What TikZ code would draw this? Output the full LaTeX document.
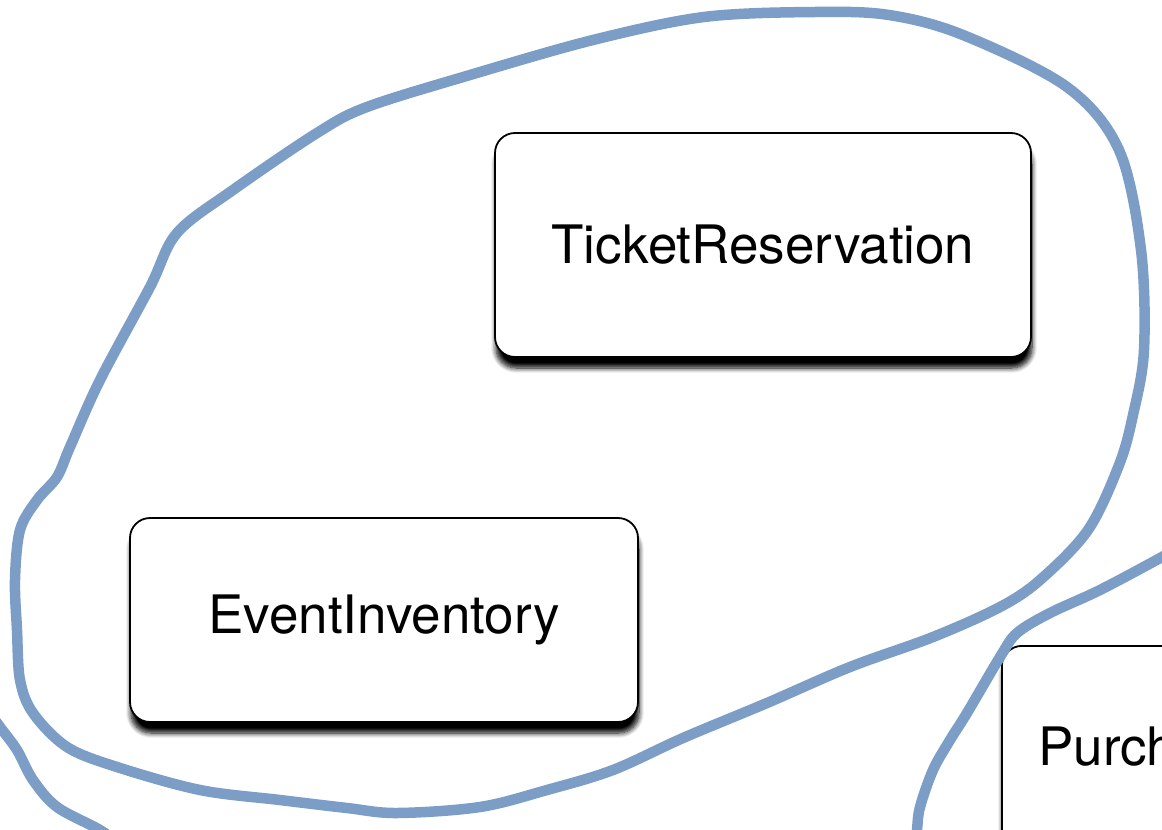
\documentclass[tikz,border=0pt]{standalone}
\usepackage{fontspec}
\setmainfont{TeX Gyre Heros}
\usetikzlibrary{shadows.blur}
\definecolor{groupblue}{RGB}{123,157,198}
\tikzset{
  classbox/.style={draw=black, line width=1.8pt, fill=white, rounded corners=20pt,
    blur shadow={shadow xshift=1pt, shadow yshift=-11pt, shadow blur radius=5pt, shadow blur steps=8, shadow opacity=100},
    font=\fontsize{53}{60}\selectfont, inner sep=0pt},
  boxlabel/.style={font=\fontsize{53}{60}\selectfont, inner sep=0pt},
  groupline/.style={draw=groupblue, line width=10.5pt, line cap=round, line join=round}
}
\begin{document}
\begin{tikzpicture}[x=1pt,y=-1pt]
  \useasboundingbox (0,0) rectangle (1162,830);
  \clip (0,0) rectangle (1162,830);

  % components
  \node[classbox, minimum width=536pt, minimum height=224pt] (ticket) at (763,245) {TicketReservation};
  \node[classbox, minimum width=508pt, minimum height=204pt] (inventory) at (384,620) {EventInventory};
  \node[classbox, anchor=north west, minimum width=500pt, minimum height=400pt] (purchase) at (1001,645) {};
  \node[boxlabel, anchor=base west] (purchaselabel) at (1038,765) {Purch};

  % hand-drawn grouping around the reservation components
  \draw[groupline] plot[smooth cycle, tension=0.55] coordinates {
    (704,17) (815,12) (889,15) (963,35) (1067,87) (1119,150) (1141,250)
    (1144,350) (1133,415) (1119,465) (1088,530) (1040,580) (1000,607)
    (933,637) (850,667) (767,703) (683,738) (613,770) (547,790) (480,807)
    (397,813) (347,808) (280,800) (200,790) (117,767) (67,747) (33,713)
    (20,680) (17,630) (15,580) (20,530) (37,500) (57,477) (70,447)
    (100,380) (150,287) (177,233) (233,190) (317,133) (367,107) (470,75)
    (593,40)};

  % neighbouring group outlines
  \draw[groupline] plot[smooth, tension=0.55] coordinates {
    (1180,546) (1162,557) (1100,590) (1050,613) (1017,633) (1000,657)
    (967,713) (950,740) (933,770) (920,807) (917,830) (915,850)};
  \draw[groupline] plot[smooth, tension=0.55] coordinates {
    (-10,713) (0,727) (17,750) (33,780) (57,807) (100,830) (125,848)};
\end{tikzpicture}
\end{document}
